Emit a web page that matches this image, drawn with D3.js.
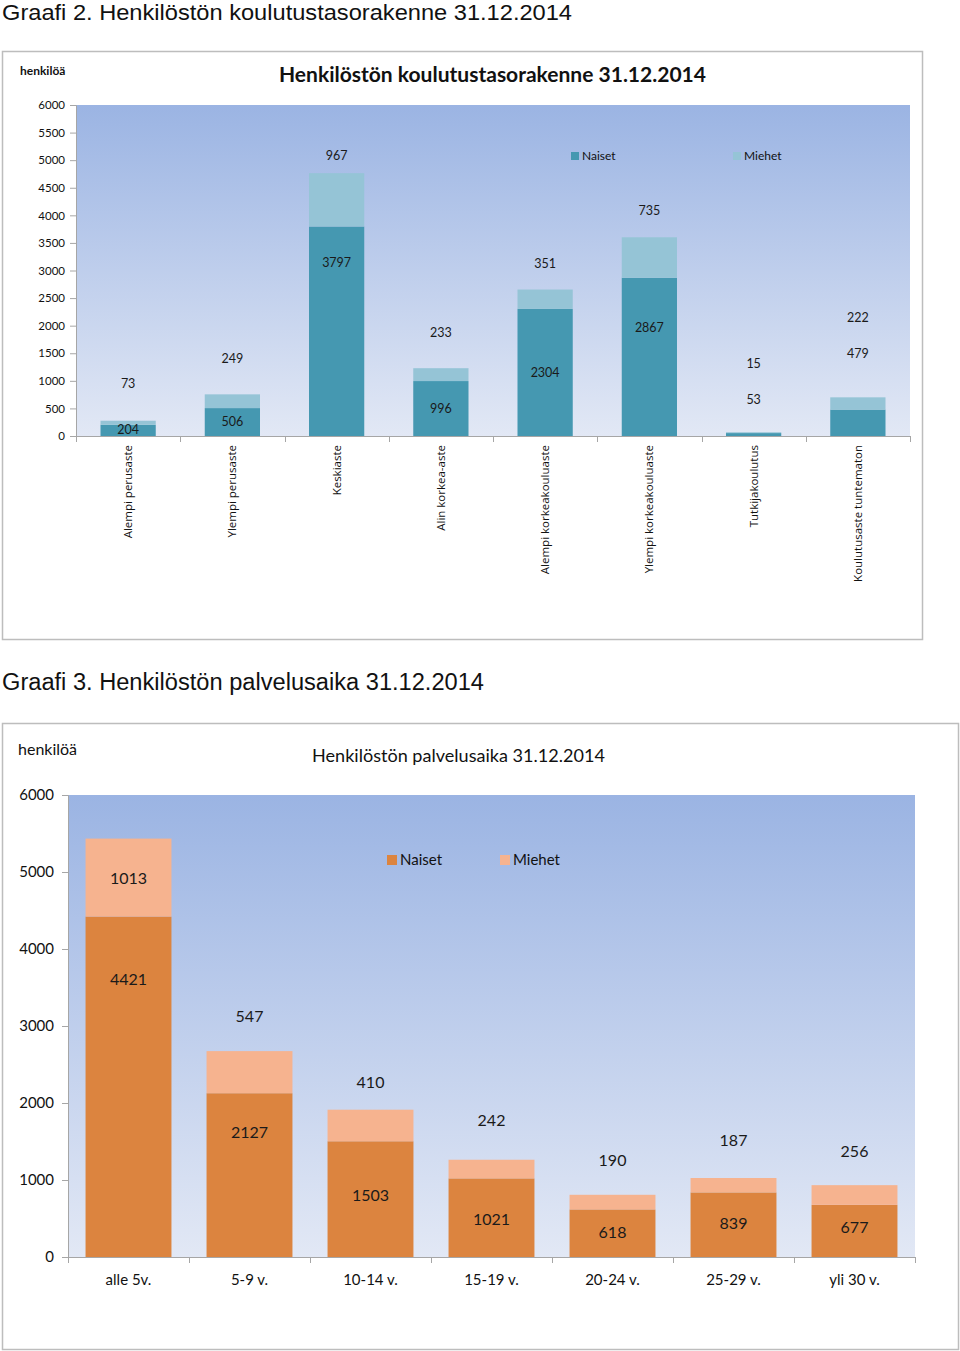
<!DOCTYPE html>
<html><head><meta charset="utf-8">
<script src="https://cdn.jsdelivr.net/npm/d3@7"></script>
<style>body{margin:0;background:#fff}svg{display:block}</style>
</head><body>
<svg id="c" width="960" height="1351"></svg>
<script>
// ---------- Data: Graafi 2 ----------
const eduCategories = ["Alempi perusaste","Ylempi perusaste","Keskiaste","Alin korkea-aste","Alempi korkeakouluaste","Ylempi korkeakouluaste","Tutkijakoulutus","Koulutusaste tuntematon"];
const eduNaiset = [204, 506, 3797, 996, 2304, 2867, 53, 479];
const eduMiehet = [73, 249, 967, 233, 351, 735, 15, 222];
// label anchor values (in henkilöä units) as placed in the picture
const eduNaisetLabelAt = [109, 254, 3136, 489, 1142, 1958, 652, 1486];
const eduMiehetLabelAt = [943, 1396, 5075, 1867, 3118, 4078, 1305, 2139];
const eduTicks = [0,500,1000,1500,2000,2500,3000,3500,4000,4500,5000,5500,6000];

// ---------- Data: Graafi 3 ----------
const srvCategories = ["alle 5v.","5-9 v.","10-14 v.","15-19 v.","20-24 v.","25-29 v.","yli 30 v."];
const srvNaiset = [4421, 2127, 1503, 1021, 618, 839, 677];
const srvMiehet = [1013, 547, 410, 242, 190, 187, 256];
const srvNaisetLabelAt = [3610, 1623, 805, 494, 325, 442, 390];
const srvMiehetLabelAt = [4922, 3130, 2273, 1779, 1260, 1519, 1377];
const srvTicks = [0,1000,2000,3000,4000,5000,6000];

const svg = d3.select("#c");
const defs = svg.append("defs");
const grad = defs.append("linearGradient").attr("id","bg").attr("x1",0).attr("y1",0).attr("x2",0).attr("y2",1);
grad.append("stop").attr("offset","0%").attr("stop-color","#9bb4e3");
grad.append("stop").attr("offset","100%").attr("stop-color","#e2e8f5");

function chart(o){
  const g = svg.append("g");
  // page header
  g.append("text").attr("x",o.headX).attr("y",o.headY).attr("font-family","Liberation Sans, Arial, sans-serif")
    .attr("font-size",o.headSize).attr("fill","#111").attr("textLength",o.headLen).attr("lengthAdjust","spacingAndGlyphs").text(o.header);
  // frame
  g.append("rect").attr("x",o.frame[0]+0.5).attr("y",o.frame[1]+0.5).attr("width",o.frame[2]).attr("height",o.frame[3])
    .attr("fill","#fff").attr("stroke","#bdbdbd").attr("stroke-width",1.5);
  const x = d3.scaleBand().domain(o.cats).range([o.px0,o.px1]).paddingInner(o.pad).paddingOuter(o.pad/2);
  const y = d3.scaleLinear().domain([0,6000]).range([o.py1,o.py0]);
  // plot background
  g.append("rect").attr("x",o.px0).attr("y",o.py0).attr("width",o.px1-o.px0).attr("height",o.py1-o.py0).attr("fill","url(#bg)");
  // titles
  g.append("text").attr("x",o.unitX).attr("y",o.unitY).attr("font-family",o.font).attr("font-size",o.unitSize)
    .attr("font-weight",o.unitWeight).attr("fill","#111").text("henkilöä");
  g.append("text").attr("x",o.titleX).attr("y",o.titleY).attr("font-family",o.font).attr("font-size",o.titleSize)
    .attr("font-weight",o.titleWeight).attr("fill","#111").attr("textLength",o.titleLen).attr("lengthAdjust","spacingAndGlyphs").text(o.title);
  // y axis
  const ya = g.append("g").attr("transform",`translate(${o.px0},0)`)
    .call(d3.axisLeft(y).tickValues(o.ticks).tickSize(6).tickPadding(o.tickPad).tickFormat(d3.format("d")));
  ya.select(".domain").attr("stroke","#a6a6a6");
  ya.selectAll(".tick line").attr("stroke","#a6a6a6");
  ya.selectAll("text").attr("font-family",o.font).attr("font-size",o.tickSize).attr("fill","#111");
  // bars
  o.cats.forEach((c,i)=>{
    g.append("rect").attr("x",x(c)).attr("width",x.bandwidth()).attr("y",y(o.nai[i])).attr("height",y(0)-y(o.nai[i])).attr("fill",o.cN);
    g.append("rect").attr("x",x(c)).attr("width",x.bandwidth()).attr("y",y(o.nai[i]+o.mie[i])).attr("height",y(o.nai[i])-y(o.nai[i]+o.mie[i])).attr("fill",o.cM);
    g.append("text").attr("x",x(c)+x.bandwidth()/2).attr("y",y(o.naiL[i])).attr("dy","0.35em").attr("text-anchor","middle")
      .attr("font-family",o.font).attr("font-size",o.valSize).attr("fill","#1a1a1a").text(o.nai[i]);
    g.append("text").attr("x",x(c)+x.bandwidth()/2).attr("y",y(o.mieL[i])).attr("dy","0.35em").attr("text-anchor","middle")
      .attr("font-family",o.font).attr("font-size",o.valSize).attr("fill","#1a1a1a").text(o.mie[i]);
  });
  // x axis line and ticks at category boundaries
  g.append("line").attr("x1",o.px0).attr("x2",o.px1).attr("y1",o.py1+0.5).attr("y2",o.py1+0.5).attr("stroke","#a6a6a6");
  const step = x.step();
  const bounds = d3.range(o.cats.length+1).map(k=> o.px0 + k*step);
  bounds.forEach(b=>{
    g.append("line").attr("x1",Math.round(b)+0.5).attr("x2",Math.round(b)+0.5).attr("y1",o.py1).attr("y2",o.py1+6).attr("stroke","#a6a6a6");
  });
  // category labels
  o.cats.forEach(c=>{
    const cx = x(c)+x.bandwidth()/2;
    if(o.rotate){
      g.append("text").attr("transform",`translate(${cx+4},${o.catY}) rotate(-90)`).attr("text-anchor","end")
        .attr("font-family",o.catFont).attr("font-size",o.catSize).attr("fill","#111").text(c);
    } else {
      g.append("text").attr("x",cx).attr("y",o.catY).attr("text-anchor","middle")
        .attr("font-family",o.font).attr("font-size",o.catSize).attr("fill","#111").text(c);
    }
  });
  // legend
  [["Naiset",o.cN,o.legX[0]],["Miehet",o.cM,o.legX[1]]].forEach(([t,col,lx])=>{
    g.append("rect").attr("x",lx).attr("y",o.legY-o.legBox+1).attr("width",o.legBox).attr("height",o.legBox).attr("fill",col);
    g.append("text").attr("x",lx+o.legBox+3).attr("y",o.legY+1).attr("font-family",o.font).attr("font-size",o.legSize).attr("fill","#111").text(t);
  });
}

chart({
  header:"Graafi 2. Henkilöstön koulutustasorakenne 31.12.2014", headX:2, headY:20, headSize:22, headLen:570,
  frame:[2,51,920,588],
  cats:eduCategories, nai:eduNaiset, mie:eduMiehet, naiL:eduNaisetLabelAt, mieL:eduMiehetLabelAt, ticks:eduTicks,
  px0:76, px1:910, py0:105, py1:436, pad:0.47,
  font:"Lato, sans-serif", catFont:"Open Sans, sans-serif",
  unitX:20, unitY:75, unitSize:12, unitWeight:"bold",
  title:"Henkilöstön koulutustasorakenne 31.12.2014", titleX:279, titleY:82, titleSize:21, titleWeight:"bold", titleLen:427,
  tickSize:11.5, tickPad:5, valSize:12.5, catSize:11.5, catY:445, rotate:true,
  cN:"#4598b1", cM:"#95c4d6",
  legX:[571,733], legY:159, legBox:8, legSize:12
});

chart({
  header:"Graafi 3. Henkilöstön palvelusaika 31.12.2014", headX:2, headY:690, headSize:23, headLen:482,
  frame:[2,723,956,626],
  cats:srvCategories, nai:srvNaiset, mie:srvMiehet, naiL:srvNaisetLabelAt, mieL:srvMiehetLabelAt, ticks:srvTicks,
  px0:68, px1:915, py0:795, py1:1257, pad:0.29,
  font:"Lato, sans-serif",
  unitX:18, unitY:755, unitSize:16, unitWeight:"normal",
  title:"Henkilöstön palvelusaika 31.12.2014", titleX:312, titleY:762, titleSize:17, titleWeight:"normal", titleLen:293,
  tickSize:15, tickPad:8, valSize:16, catSize:15, catY:1285, rotate:false,
  cN:"#dc843f", cM:"#f6b38f",
  legX:[387,500], legY:864, legBox:10, legSize:15
});
</script>
</body></html>
